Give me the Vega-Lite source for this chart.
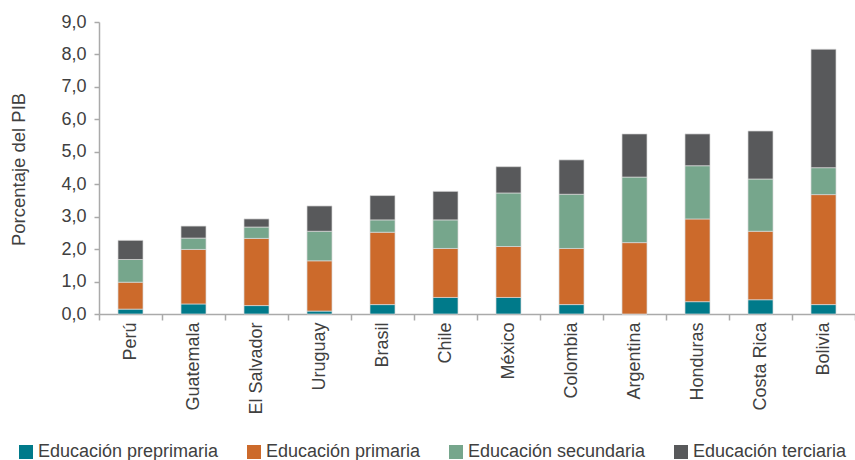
{
  "$schema": "https://vega.github.io/schema/vega-lite/v6.json",
  "width": 756,
  "height": 292,
  "autosize": {"type": "none"},
  "padding": {"left": 99, "top": 22, "right": 0, "bottom": 146},
  "background": "white",
  "config": {
    "view": {"stroke": null},
    "font": "Liberation Sans",
    "locale": {"number": {"decimal": ",", "thousands": ".", "grouping": [3], "currency": ["", " €"]}}
  },
  "data": {"values": [
    {"pais": "Perú", "nivel": "Educación preprimaria", "orden": 1, "valor": 0.15},
    {"pais": "Perú", "nivel": "Educación primaria", "orden": 2, "valor": 0.83},
    {"pais": "Perú", "nivel": "Educación secundaria", "orden": 3, "valor": 0.70},
    {"pais": "Perú", "nivel": "Educación terciaria", "orden": 4, "valor": 0.59},
    {"pais": "Guatemala", "nivel": "Educación preprimaria", "orden": 1, "valor": 0.31},
    {"pais": "Guatemala", "nivel": "Educación primaria", "orden": 2, "valor": 1.68},
    {"pais": "Guatemala", "nivel": "Educación secundaria", "orden": 3, "valor": 0.35},
    {"pais": "Guatemala", "nivel": "Educación terciaria", "orden": 4, "valor": 0.37},
    {"pais": "El Salvador", "nivel": "Educación preprimaria", "orden": 1, "valor": 0.26},
    {"pais": "El Salvador", "nivel": "Educación primaria", "orden": 2, "valor": 2.07},
    {"pais": "El Salvador", "nivel": "Educación secundaria", "orden": 3, "valor": 0.35},
    {"pais": "El Salvador", "nivel": "Educación terciaria", "orden": 4, "valor": 0.25},
    {"pais": "Uruguay", "nivel": "Educación preprimaria", "orden": 1, "valor": 0.09},
    {"pais": "Uruguay", "nivel": "Educación primaria", "orden": 2, "valor": 1.55},
    {"pais": "Uruguay", "nivel": "Educación secundaria", "orden": 3, "valor": 0.91},
    {"pais": "Uruguay", "nivel": "Educación terciaria", "orden": 4, "valor": 0.78},
    {"pais": "Brasil", "nivel": "Educación preprimaria", "orden": 1, "valor": 0.29},
    {"pais": "Brasil", "nivel": "Educación primaria", "orden": 2, "valor": 2.23},
    {"pais": "Brasil", "nivel": "Educación secundaria", "orden": 3, "valor": 0.38},
    {"pais": "Brasil", "nivel": "Educación terciaria", "orden": 4, "valor": 0.75},
    {"pais": "Chile", "nivel": "Educación preprimaria", "orden": 1, "valor": 0.51},
    {"pais": "Chile", "nivel": "Educación primaria", "orden": 2, "valor": 1.51},
    {"pais": "Chile", "nivel": "Educación secundaria", "orden": 3, "valor": 0.88},
    {"pais": "Chile", "nivel": "Educación terciaria", "orden": 4, "valor": 0.88},
    {"pais": "México", "nivel": "Educación preprimaria", "orden": 1, "valor": 0.51},
    {"pais": "México", "nivel": "Educación primaria", "orden": 2, "valor": 1.57},
    {"pais": "México", "nivel": "Educación secundaria", "orden": 3, "valor": 1.65},
    {"pais": "México", "nivel": "Educación terciaria", "orden": 4, "valor": 0.81},
    {"pais": "Colombia", "nivel": "Educación preprimaria", "orden": 1, "valor": 0.29},
    {"pais": "Colombia", "nivel": "Educación primaria", "orden": 2, "valor": 1.73},
    {"pais": "Colombia", "nivel": "Educación secundaria", "orden": 3, "valor": 1.67},
    {"pais": "Colombia", "nivel": "Educación terciaria", "orden": 4, "valor": 1.06},
    {"pais": "Argentina", "nivel": "Educación preprimaria", "orden": 1, "valor": 0},
    {"pais": "Argentina", "nivel": "Educación primaria", "orden": 2, "valor": 2.20},
    {"pais": "Argentina", "nivel": "Educación secundaria", "orden": 3, "valor": 2.02},
    {"pais": "Argentina", "nivel": "Educación terciaria", "orden": 4, "valor": 1.33},
    {"pais": "Honduras", "nivel": "Educación preprimaria", "orden": 1, "valor": 0.38},
    {"pais": "Honduras", "nivel": "Educación primaria", "orden": 2, "valor": 2.55},
    {"pais": "Honduras", "nivel": "Educación secundaria", "orden": 3, "valor": 1.64},
    {"pais": "Honduras", "nivel": "Educación terciaria", "orden": 4, "valor": 0.98},
    {"pais": "Costa Rica", "nivel": "Educación preprimaria", "orden": 1, "valor": 0.44},
    {"pais": "Costa Rica", "nivel": "Educación primaria", "orden": 2, "valor": 2.11},
    {"pais": "Costa Rica", "nivel": "Educación secundaria", "orden": 3, "valor": 1.61},
    {"pais": "Costa Rica", "nivel": "Educación terciaria", "orden": 4, "valor": 1.48},
    {"pais": "Bolivia", "nivel": "Educación preprimaria", "orden": 1, "valor": 0.29},
    {"pais": "Bolivia", "nivel": "Educación primaria", "orden": 2, "valor": 3.39},
    {"pais": "Bolivia", "nivel": "Educación secundaria", "orden": 3, "valor": 0.83},
    {"pais": "Bolivia", "nivel": "Educación terciaria", "orden": 4, "valor": 3.65}
  ]},
  "mark": {"type": "bar", "width": 25, "stroke": "#d9d9d9", "strokeWidth": 0.7},
  "encoding": {
    "x": {
      "field": "pais", "type": "nominal",
      "sort": ["Perú", "Guatemala", "El Salvador", "Uruguay", "Brasil", "Chile", "México", "Colombia", "Argentina", "Honduras", "Costa Rica", "Bolivia"],
      "scale": {"paddingInner": 0, "paddingOuter": 0},
      "axis": {
        "title": null, "labelAngle": -90, "labelAlign": "right", "labelBaseline": "middle",
        "labelFontSize": 18, "labelColor": "#404040", "labelPadding": 2,
        "domainColor": "#aaaaaa", "domainWidth": 1.5,
        "tickColor": "#aaaaaa", "tickWidth": 1.5, "tickSize": 6, "tickBand": "extent"
      }
    },
    "y": {
      "field": "valor", "type": "quantitative", "stack": "zero",
      "scale": {"domain": [0, 9], "nice": false},
      "axis": {
        "title": "Porcentaje del PIB", "values": [0, 1, 2, 3, 4, 5, 6, 7, 8, 9], "format": ".1f",
        "grid": false, "labelFontSize": 18, "labelColor": "#404040", "labelPadding": 8,
        "domainColor": "#aaaaaa", "domainWidth": 1.5,
        "tickColor": "#aaaaaa", "tickWidth": 1.5, "tickSize": 5,
        "titleFontSize": 18.5, "titleFontWeight": "normal", "titleColor": "#404040",
        "titleX": -71, "titleY": 147
      }
    },
    "color": {
      "field": "nivel", "type": "nominal",
      "scale": {
        "domain": ["Educación preprimaria", "Educación primaria", "Educación secundaria", "Educación terciaria"],
        "range": ["#007a8a", "#cc6a2b", "#76a68c", "#58595b"]
      },
      "legend": {
        "title": null, "orient": "none", "direction": "horizontal", "legendX": -82, "legendY": 421,
        "symbolType": "square", "symbolSize": 196, "symbolStrokeWidth": 0, "symbolOpacity": 1,
        "labelFontSize": 18, "labelColor": "#404040", "labelOffset": 3, "columnPadding": 26, "labelLimit": 400
      }
    },
    "order": {"field": "orden", "type": "quantitative"}
  }
}
